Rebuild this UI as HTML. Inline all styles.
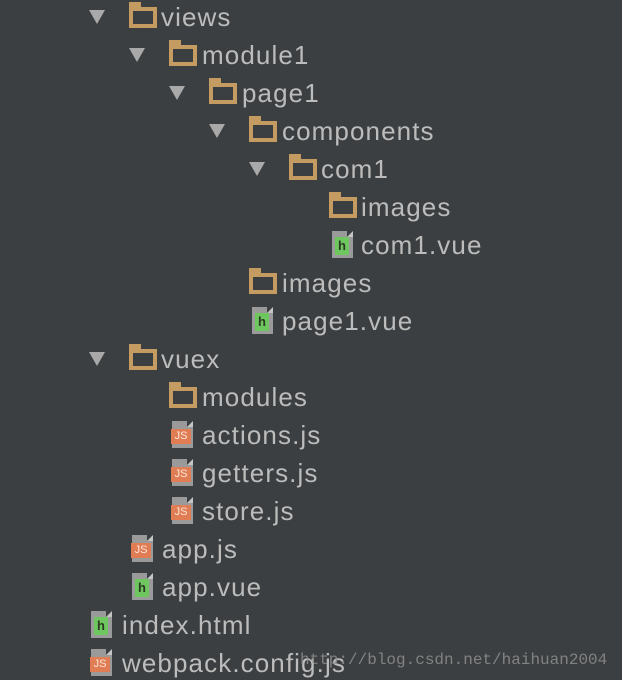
<!DOCTYPE html>
<html><head><meta charset="utf-8"><style>
html,body{margin:0;padding:0;background:#3c3f41;width:622px;height:680px;overflow:hidden;position:relative;font-family:"Liberation Sans",sans-serif;}
.r{position:absolute;height:38px;}
.t{position:absolute;color:#bcbcbc;font-size:26px;line-height:38px;top:0;white-space:nowrap;letter-spacing:1.1px}
.a{position:absolute;top:12px;width:0;height:0;border-left:8px solid transparent;border-right:8px solid transparent;border-top:14px solid #a9a9a9}
.f{position:absolute;top:9px;width:20px;height:13px;border:4px solid #c49c62}
.f:before{content:"";position:absolute;left:-4px;top:-9px;width:12px;height:6px;background:#c49c62}
.p{position:absolute;top:5px;width:21px;height:27px;background:#9a9a9a}
.p:after{content:"";position:absolute;right:0;top:0;border-left:6px solid #3c3f41;border-bottom:6px solid #c5c5c5;}
.p .h{position:absolute;left:3px;top:6px;width:14px;height:18px;background:#6dc65e;color:#2a3a22;font-size:13px;font-weight:bold;line-height:18px;text-align:center}
.p .j{position:absolute;left:-1px;top:8px;width:20px;height:15px;background:#e07d55;color:#fbe6d8;font-size:11px;line-height:15px;text-align:center}
.wm{position:absolute;left:300px;top:651px;color:#8e8e8e;font-family:"Liberation Mono",monospace;font-size:16px;opacity:.85}
</style></head><body>

<div class="r" style="top:-2px;left:0;width:622px"><div class="a" style="left:89px"></div><div class="f" style="left:129px"></div><div class="t" style="left:161px">views</div></div>
<div class="r" style="top:36px;left:0;width:622px"><div class="a" style="left:129px"></div><div class="f" style="left:169px"></div><div class="t" style="left:202px">module1</div></div>
<div class="r" style="top:74px;left:0;width:622px"><div class="a" style="left:169px"></div><div class="f" style="left:209px"></div><div class="t" style="left:242px">page1</div></div>
<div class="r" style="top:112px;left:0;width:622px"><div class="a" style="left:209px"></div><div class="f" style="left:249px"></div><div class="t" style="left:282px">components</div></div>
<div class="r" style="top:150px;left:0;width:622px"><div class="a" style="left:249px"></div><div class="f" style="left:289px"></div><div class="t" style="left:321px">com1</div></div>
<div class="r" style="top:188px;left:0;width:622px"><div class="f" style="left:329px"></div><div class="t" style="left:361px">images</div></div>
<div class="r" style="top:226px;left:0;width:622px"><div class="p" style="left:332px"><div class="h">h</div></div><div class="t" style="left:361px">com1.vue</div></div>
<div class="r" style="top:264px;left:0;width:622px"><div class="f" style="left:249px"></div><div class="t" style="left:282px">images</div></div>
<div class="r" style="top:302px;left:0;width:622px"><div class="p" style="left:252px"><div class="h">h</div></div><div class="t" style="left:282px">page1.vue</div></div>
<div class="r" style="top:340px;left:0;width:622px"><div class="a" style="left:89px"></div><div class="f" style="left:129px"></div><div class="t" style="left:161px">vuex</div></div>
<div class="r" style="top:378px;left:0;width:622px"><div class="f" style="left:169px"></div><div class="t" style="left:202px">modules</div></div>
<div class="r" style="top:416px;left:0;width:622px"><div class="p" style="left:172px"><div class="j">JS</div></div><div class="t" style="left:202px">actions.js</div></div>
<div class="r" style="top:454px;left:0;width:622px"><div class="p" style="left:172px"><div class="j">JS</div></div><div class="t" style="left:202px">getters.js</div></div>
<div class="r" style="top:492px;left:0;width:622px"><div class="p" style="left:172px"><div class="j">JS</div></div><div class="t" style="left:202px">store.js</div></div>
<div class="r" style="top:530px;left:0;width:622px"><div class="p" style="left:132px"><div class="j">JS</div></div><div class="t" style="left:162px">app.js</div></div>
<div class="r" style="top:568px;left:0;width:622px"><div class="p" style="left:132px"><div class="h">h</div></div><div class="t" style="left:162px">app.vue</div></div>
<div class="r" style="top:606px;left:0;width:622px"><div class="p" style="left:91px"><div class="h">h</div></div><div class="t" style="left:122px">index.html</div></div>
<div class="r" style="top:644px;left:0;width:622px"><div class="p" style="left:91px"><div class="j">JS</div></div><div class="t" style="left:122px">webpack.config.js</div></div>
<div class="wm">http://blog.csdn.net/haihuan2004</div>
</body></html>
